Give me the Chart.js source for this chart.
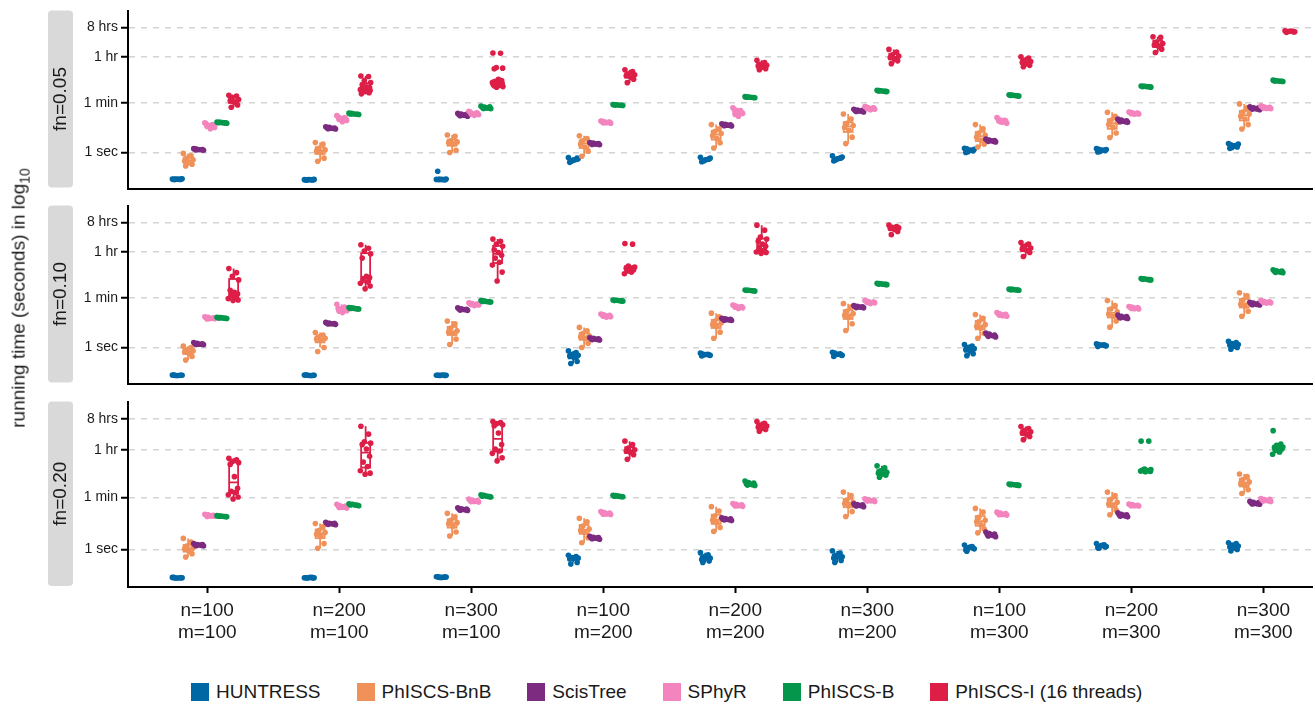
<!DOCTYPE html>
<html>
<head>
<meta charset="utf-8">
<script src="https://cdn.jsdelivr.net/npm/chart.js@4.4.1/dist/chart.umd.min.js"></script>
<style>
  body { margin: 0; background: #fff; font-family: "Liberation Sans", Arial, sans-serif; color: #1a1a1a; }
  #wrap { position: relative; width: 1315px; height: 705px; overflow: hidden; }
  .panel { position: absolute; left: 0; }
  #ytitle { position: absolute; left: 20px; top: 298px; transform: translate(-50%, -50%) rotate(-90deg);
            white-space: nowrap; font-size: 19px; }
  #ytitle sub { font-size: 14px; }
  #legend { position: absolute; left: 191px; top: 681px; display: flex; align-items: center; font-size: 19px; }
  .item { display: flex; align-items: center; margin-right: 36px; }
  .sw { width: 18px; height: 18px; margin-right: 7px; }
</style>
</head>
<body>
<div id="wrap">
  <canvas id="p0" class="panel" width="1315" height="200" style="top:0px"></canvas>
  <canvas id="p1" class="panel" width="1315" height="200" style="top:195px"></canvas>
  <canvas id="p2" class="panel" width="1315" height="270" style="top:391px"></canvas>
  <div id="ytitle">running time (seconds) in log<sub>10</sub></div>
  <div id="legend"></div>
</div>
<script>
// categories, methods, panels
const CATEGORIES = [['n=100', 'm=100'], ['n=200', 'm=100'], ['n=300', 'm=100'],
                    ['n=100', 'm=200'], ['n=200', 'm=200'], ['n=300', 'm=200'],
                    ['n=100', 'm=300'], ['n=200', 'm=300'], ['n=300', 'm=300']];
const METHODS = ['HUNTRESS', 'PhISCS-BnB', 'ScisTree', 'SPhyR', 'PhISCS-B', 'PhISCS-I (16 threads)'];
const COLORS = ['#0067a5', '#ef9159', '#7c2b81', '#f384be', '#04974b', '#dd1f48'];
const PANELS = ['fn=0.05', 'fn=0.10', 'fn=0.20'];

// y axis ticks (log10 seconds, as placed on the picture)
const TICK_VALUES = [0, 1.78, 3.41, 4.48];
const TICK_LABELS = ['1 sec', '1 min', '1 hr', '8 hrs'];

// ---- fn = 0.05 ----
const huntress_fn05 = [
  [-0.95, -0.96, -0.95, -0.94, -0.96, -0.95, -0.95, -0.96],
  [-0.97, -0.98, -0.97, -0.96, -0.98, -0.97, -0.97, -0.98],
  [-0.96, -0.97, -0.96, -0.95, -0.67, -0.96, -0.97, -0.96],
  [-0.18, -0.25, -0.3, -0.22, -0.35, -0.27, -0.2, -0.32],
  [-0.17, -0.24, -0.3, -0.2, -0.33, -0.26, -0.22, -0.29],
  [-0.12, -0.2, -0.26, -0.16, -0.3, -0.22, -0.18, -0.25],
  [0.15, 0.08, 0.03, 0.12, 0.0, 0.09, 0.06, 0.13],
  [0.14, 0.08, 0.04, 0.11, 0.02, 0.09, 0.07, 0.12],
  [0.32, 0.25, 0.18, 0.3, 0.15, 0.24, 0.2, 0.28]
];
const bnb_fn05 = [
  [-0.03, -0.12, -0.2, -0.26, -0.3, -0.35, -0.42, -0.48],
  [0.36, 0.3, 0.15, 0.1, 0.05, 0.0, -0.2, -0.31],
  [0.63, 0.58, 0.42, 0.38, 0.35, 0.3, 0.08, 0.0],
  [0.6, 0.5, 0.42, 0.35, 0.3, 0.2, 0.05, -0.13],
  [1.0, 0.85, 0.75, 0.68, 0.6, 0.5, 0.35, 0.16],
  [1.38, 1.2, 1.05, 0.97, 0.9, 0.8, 0.55, 0.32],
  [1.0, 0.85, 0.7, 0.62, 0.55, 0.45, 0.3, 0.2],
  [1.44, 1.3, 1.15, 1.08, 1.0, 0.9, 0.7, 0.54],
  [1.74, 1.6, 1.45, 1.38, 1.3, 1.2, 1.0, 0.84]
];
const scistree_fn05 = [
  [0.14, 0.1, 0.12, 0.08, 0.13, 0.1, 0.11, 0.09],
  [0.92, 0.86, 0.9, 0.84, 0.89, 0.87, 0.88, 0.85],
  [1.4, 1.33, 1.38, 1.3, 1.36, 1.34, 1.37, 1.32],
  [0.36, 0.3, 0.34, 0.28, 0.33, 0.31, 0.32, 0.29],
  [1.03, 0.97, 1.01, 0.95, 1.0, 0.98, 0.99, 0.96],
  [1.55, 1.48, 1.52, 1.45, 1.5, 1.49, 1.51, 1.47],
  [0.48, 0.4, 0.45, 0.38, 0.44, 0.42, 0.43, 0.4],
  [1.2, 1.1, 1.16, 1.08, 1.15, 1.12, 1.14, 1.1],
  [1.64, 1.56, 1.6, 1.53, 1.59, 1.57, 1.6, 1.55]
];
const sphyr_fn05 = [
  [1.06, 1.0, 0.95, 0.9, 1.03, 0.85, 0.98, 0.93],
  [1.32, 1.25, 1.2, 1.15, 1.28, 1.1, 1.22, 1.18],
  [1.48, 1.42, 1.38, 1.35, 1.45, 1.33, 1.4, 1.37],
  [1.13, 1.08, 1.1, 1.05, 1.12, 1.07, 1.09, 1.06],
  [1.6, 1.5, 1.45, 1.4, 1.55, 1.3, 1.42, 1.36],
  [1.65, 1.58, 1.6, 1.55, 1.63, 1.53, 1.6, 1.57],
  [1.25, 1.15, 1.1, 1.05, 1.2, 1.08, 1.14, 1.12],
  [1.45, 1.4, 1.42, 1.38, 1.44, 1.37, 1.41, 1.39],
  [1.67, 1.6, 1.63, 1.57, 1.65, 1.58, 1.62, 1.59]
];
const phiscsb_fn05 = [
  [1.09, 1.06, 1.08, 1.05, 1.07, 1.07, 1.06, 1.08],
  [1.41, 1.37, 1.39, 1.36, 1.38, 1.38, 1.37, 1.4],
  [1.66, 1.6, 1.63, 1.57, 1.62, 1.59, 1.64, 1.58],
  [1.72, 1.69, 1.71, 1.68, 1.7, 1.7, 1.69, 1.71],
  [2.0, 1.97, 1.99, 1.96, 1.98, 1.98, 1.97, 1.99],
  [2.23, 2.19, 2.21, 2.18, 2.2, 2.2, 2.19, 2.22],
  [2.07, 2.03, 2.05, 2.02, 2.04, 2.04, 2.03, 2.06],
  [2.38, 2.35, 2.37, 2.34, 2.36, 2.36, 2.35, 2.37],
  [2.59, 2.55, 2.57, 2.54, 2.56, 2.56, 2.55, 2.58]
];
const phiscsi_fn05 = [
  [2.05, 2.02, 1.98, 1.9, 1.85, 1.8, 1.7, 1.62],
  [2.74, 2.72, 2.58, 2.5, 2.42, 2.35, 2.32, 2.3, 2.28, 2.25, 2.22, 2.18, 2.14, 2.1],
  [3.56, 3.55, 3.04, 3.02, 3.0, 2.62, 2.58, 2.55, 2.52, 2.5, 2.48, 2.46, 2.44, 2.42, 2.4, 2.38, 2.36, 2.34,
   2.45, 2.5, 2.53, 2.4, 2.48, 2.44],
  [2.96, 2.9, 2.82, 2.78, 2.75, 2.7, 2.62, 2.5],
  [3.3, 3.22, 3.16, 3.12, 3.1, 3.05, 3.0, 2.96],
  [3.69, 3.6, 3.5, 3.45, 3.4, 3.35, 3.28, 3.18],
  [3.43, 3.38, 3.3, 3.26, 3.22, 3.18, 3.12, 3.07],
  [4.14, 4.12, 3.95, 3.9, 3.85, 3.8, 3.7, 3.58],
  [4.36, 4.34, 4.33, 4.32, 4.3, 4.35, 4.31, 4.33]
];

// ---- fn = 0.10 ----
const huntress_fn10 = [
  [-0.98, -0.99, -1.0, -0.99, -0.98, -1.0, -0.99, -0.99],
  [-0.98, -1.0, -0.99, -0.99, -0.98, -1.0, -0.99, -0.98],
  [-0.99, -0.98, -1.0, -0.99, -0.99, -0.98, -1.0, -0.99],
  [-0.12, -0.18, -0.25, -0.28, -0.3, -0.35, -0.5, -0.57],
  [-0.2, -0.24, -0.26, -0.28, -0.3, -0.25, -0.27, -0.23],
  [-0.17, -0.22, -0.25, -0.28, -0.32, -0.24, -0.27, -0.2],
  [0.11, 0.05, 0.0, -0.04, -0.08, -0.12, -0.22, -0.29],
  [0.13, 0.1, 0.08, 0.06, 0.04, 0.09, 0.07, 0.11],
  [0.22, 0.18, 0.14, 0.11, 0.08, 0.05, 0.0, -0.06]
];
const bnb_fn10 = [
  [0.05, 0.0, -0.08, -0.12, -0.16, -0.2, -0.32, -0.45],
  [0.54, 0.45, 0.38, 0.33, 0.3, 0.25, 0.0, -0.14],
  [0.95, 0.85, 0.7, 0.6, 0.55, 0.5, 0.3, 0.11],
  [0.72, 0.6, 0.5, 0.42, 0.38, 0.32, 0.15, 0.0],
  [1.23, 1.1, 0.95, 0.88, 0.82, 0.75, 0.55, 0.33],
  [1.57, 1.45, 1.3, 1.22, 1.15, 1.08, 0.85, 0.61],
  [1.18, 1.05, 0.92, 0.82, 0.76, 0.7, 0.5, 0.33],
  [1.68, 1.5, 1.38, 1.28, 1.2, 1.12, 0.95, 0.73],
  [1.96, 1.85, 1.7, 1.6, 1.55, 1.48, 1.3, 1.12]
];
const scistree_fn10 = [
  [0.18, 0.12, 0.15, 0.1, 0.14, 0.12, 0.13, 0.11],
  [0.9, 0.85, 0.88, 0.83, 0.87, 0.85, 0.86, 0.84],
  [1.42, 1.35, 1.39, 1.33, 1.38, 1.36, 1.37, 1.34],
  [0.35, 0.29, 0.33, 0.27, 0.32, 0.3, 0.31, 0.28],
  [1.05, 0.99, 1.03, 0.97, 1.02, 1.0, 1.01, 0.98],
  [1.5, 1.44, 1.48, 1.42, 1.47, 1.45, 1.46, 1.43],
  [0.52, 0.42, 0.48, 0.38, 0.46, 0.43, 0.45, 0.4],
  [1.16, 1.06, 1.12, 1.04, 1.1, 1.08, 1.11, 1.06],
  [1.62, 1.54, 1.59, 1.52, 1.57, 1.55, 1.58, 1.53]
];
const sphyr_fn10 = [
  [1.1, 1.05, 1.08, 1.03, 1.07, 1.04, 1.06, 1.02],
  [1.55, 1.45, 1.38, 1.32, 1.4, 1.25, 1.36, 1.3],
  [1.6, 1.55, 1.57, 1.52, 1.58, 1.5, 1.56, 1.53],
  [1.2, 1.14, 1.16, 1.1, 1.18, 1.08, 1.15, 1.12],
  [1.52, 1.45, 1.48, 1.42, 1.5, 1.4, 1.47, 1.44],
  [1.68, 1.62, 1.65, 1.6, 1.66, 1.58, 1.63, 1.61],
  [1.25, 1.17, 1.2, 1.12, 1.22, 1.14, 1.19, 1.16],
  [1.47, 1.41, 1.44, 1.38, 1.45, 1.39, 1.43, 1.4],
  [1.68, 1.62, 1.65, 1.6, 1.66, 1.59, 1.64, 1.61]
];
const phiscsb_fn10 = [
  [1.08, 1.05, 1.07, 1.04, 1.06, 1.06, 1.05, 1.07],
  [1.43, 1.39, 1.41, 1.38, 1.4, 1.4, 1.39, 1.42],
  [1.68, 1.64, 1.66, 1.63, 1.65, 1.65, 1.64, 1.67],
  [1.7, 1.67, 1.69, 1.66, 1.68, 1.68, 1.67, 1.69],
  [2.06, 2.03, 2.05, 2.02, 2.04, 2.04, 2.03, 2.05],
  [2.3, 2.26, 2.28, 2.25, 2.27, 2.27, 2.26, 2.29],
  [2.09, 2.06, 2.08, 2.05, 2.07, 2.07, 2.06, 2.08],
  [2.47, 2.43, 2.45, 2.42, 2.44, 2.44, 2.43, 2.46],
  [2.78, 2.7, 2.75, 2.68, 2.73, 2.71, 2.74, 2.69]
];
const phiscsi_fn10 = [
  [2.83, 2.68, 2.55, 2.42, 2.05, 1.98, 1.92, 1.86, 1.8, 1.75, 1.7, 1.68],
  [3.68, 3.55, 3.45, 3.35, 3.2, 2.55, 2.5, 2.45, 2.35, 2.3, 2.2, 2.1],
  [3.88, 3.8, 3.7, 3.62, 3.5, 3.4, 3.3, 3.2, 3.05, 2.95, 2.7, 2.38],
  [3.72, 3.7, 2.92, 2.88, 2.84, 2.8, 2.78, 2.74, 2.7, 2.64],
  [4.38, 4.2, 3.95, 3.88, 3.8, 3.7, 3.62, 3.55, 3.48, 3.42, 3.4, 3.37],
  [4.38, 4.33, 4.3, 4.28, 4.26, 4.22, 4.15, 4.04],
  [3.76, 3.7, 3.62, 3.56, 3.52, 3.48, 3.4, 3.26],
  null,
  null
];

// ---- fn = 0.20 ----
const huntress_fn20 = [
  [-0.96, -0.97, -0.98, -0.97, -0.96, -0.98, -0.97, -0.97],
  [-0.97, -0.96, -0.98, -0.97, -0.97, -0.96, -0.98, -0.97],
  [-0.94, -0.95, -0.96, -0.95, -0.94, -0.96, -0.95, -0.95],
  [-0.2, -0.24, -0.28, -0.3, -0.33, -0.29, -0.45, -0.5],
  [-0.11, -0.18, -0.25, -0.3, -0.35, -0.28, -0.4, -0.45],
  [-0.05, -0.12, -0.2, -0.25, -0.3, -0.22, -0.38, -0.45],
  [0.15, 0.1, 0.06, 0.02, -0.02, 0.08, 0.04, -0.06],
  [0.2, 0.16, 0.12, 0.1, 0.06, 0.14, 0.08, 0.04],
  [0.23, 0.2, 0.15, 0.12, 0.08, 0.05, 0.0, -0.05]
];
const bnb_fn20 = [
  [0.38, 0.25, 0.12, 0.06, 0.02, -0.05, -0.15, -0.26],
  [0.89, 0.78, 0.65, 0.58, 0.52, 0.45, 0.2, 0.04],
  [1.24, 1.12, 1.0, 0.92, 0.88, 0.8, 0.6, 0.46],
  [1.07, 0.95, 0.8, 0.7, 0.65, 0.58, 0.4, 0.23],
  [1.47, 1.32, 1.15, 1.05, 1.0, 0.92, 0.75, 0.62],
  [1.97, 1.85, 1.7, 1.62, 1.58, 1.5, 1.3, 1.13],
  [1.41, 1.28, 1.1, 1.0, 0.95, 0.85, 0.7, 0.57],
  [1.97, 1.85, 1.72, 1.62, 1.56, 1.5, 1.35, 1.19],
  [2.59, 2.5, 2.4, 2.32, 2.26, 2.2, 2.05, 1.92]
];
const scistree_fn20 = [
  [0.2, 0.14, 0.17, 0.12, 0.16, 0.15, 0.17, 0.13],
  [0.93, 0.87, 0.9, 0.85, 0.89, 0.88, 0.9, 0.86],
  [1.43, 1.36, 1.4, 1.34, 1.38, 1.37, 1.39, 1.35],
  [0.45, 0.38, 0.42, 0.35, 0.4, 0.39, 0.41, 0.37],
  [1.09, 1.02, 1.06, 0.99, 1.04, 1.03, 1.05, 1.01],
  [1.57, 1.5, 1.54, 1.47, 1.52, 1.51, 1.53, 1.49],
  [0.6, 0.48, 0.55, 0.44, 0.52, 0.5, 0.53, 0.46],
  [1.26, 1.15, 1.21, 1.12, 1.2, 1.17, 1.19, 1.14],
  [1.65, 1.57, 1.62, 1.55, 1.6, 1.58, 1.61, 1.56]
];
const sphyr_fn20 = [
  [1.21, 1.16, 1.19, 1.14, 1.18, 1.15, 1.17, 1.13],
  [1.55, 1.47, 1.5, 1.42, 1.52, 1.45, 1.49, 1.44],
  [1.73, 1.66, 1.7, 1.63, 1.69, 1.65, 1.68, 1.64],
  [1.3, 1.23, 1.27, 1.2, 1.26, 1.22, 1.25, 1.21],
  [1.58, 1.51, 1.55, 1.48, 1.54, 1.5, 1.53, 1.49],
  [1.74, 1.68, 1.71, 1.65, 1.7, 1.67, 1.69, 1.66],
  [1.28, 1.21, 1.25, 1.18, 1.24, 1.2, 1.23, 1.19],
  [1.56, 1.51, 1.54, 1.49, 1.53, 1.5, 1.52, 1.5],
  [1.75, 1.67, 1.71, 1.65, 1.7, 1.68, 1.72, 1.66]
];
const phiscsb_fn20 = [
  [1.16, 1.13, 1.15, 1.12, 1.14, 1.14, 1.13, 1.15],
  [1.57, 1.52, 1.55, 1.5, 1.53, 1.53, 1.52, 1.54],
  [1.88, 1.82, 1.85, 1.8, 1.83, 1.83, 1.82, 1.86],
  [1.86, 1.82, 1.84, 1.81, 1.83, 1.83, 1.82, 1.85],
  [2.35, 2.22, 2.3, 2.2, 2.26, 2.24, 2.28, 2.21],
  [2.87, 2.8, 2.7, 2.65, 2.62, 2.6, 2.55, 2.48],
  [2.25, 2.21, 2.23, 2.2, 2.22, 2.22, 2.21, 2.24],
  [3.72, 3.72, 2.76, 2.74, 2.73, 2.72, 2.71, 2.7, 2.7, 2.69, 2.68, 2.67],
  [4.08, 3.62, 3.58, 3.52, 3.5, 3.48, 3.45, 3.4, 3.35, 3.27]
];
const phiscsi_fn20 = [
  [3.13, 3.08, 3.02, 2.98, 2.92, 2.5, 2.1, 2.0, 1.95, 1.88, 1.8, 1.73],
  [4.23, 3.96, 3.7, 3.65, 3.6, 3.45, 3.2, 3.0, 2.85, 2.7, 2.62, 2.58],
  [4.39, 4.36, 4.32, 4.28, 4.25, 4.0, 3.6, 3.45, 3.38, 3.3, 3.15, 3.04],
  [3.72, 3.6, 3.48, 3.42, 3.38, 3.33, 3.25, 3.1],
  [4.39, 4.33, 4.27, 4.24, 4.2, 4.16, 4.12, 4.06],
  null,
  [4.22, 4.15, 4.08, 4.04, 4.0, 3.95, 3.88, 3.77],
  null,
  null
];

const PANEL_DATA = [
  [huntress_fn05, bnb_fn05, scistree_fn05, sphyr_fn05, phiscsb_fn05, phiscsi_fn05],
  [huntress_fn10, bnb_fn10, scistree_fn10, sphyr_fn10, phiscsb_fn10, phiscsi_fn10],
  [huntress_fn20, bnb_fn20, scistree_fn20, sphyr_fn20, phiscsb_fn20, phiscsi_fn20]
];

// layout of the dodged / jittered groups, in category units
const DODGE = [-0.228, -0.145, -0.066, 0.018, 0.11, 0.2];
const JITTER = [-0.036, 0.022, -0.01, 0.038, -0.026, 0.006, 0.03, -0.018, 0.014, -0.04, 0.034, -0.004,
                0.026, -0.032, 0.01, -0.022, 0.04, -0.008, 0.018, -0.03, 0.002, 0.036, -0.014, 0.028];
const BOX_W = 0.068;
const FONT = '"Liberation Sans", Arial, sans-serif';

function quantile(sorted, p) {
  const h = (sorted.length - 1) * p;
  const lo = Math.floor(h);
  return sorted[lo] + (h - lo) * ((sorted[lo + 1] ?? sorted[lo]) - sorted[lo]);
}

const stripPlugin = {
  id: 'strip',
  beforeDraw(chart, args, opts) {
    const { ctx, chartArea: a } = chart;
    ctx.save();
    ctx.fillStyle = '#d9d9d9';
    ctx.beginPath();
    ctx.roundRect(48, a.top - 1, 25, a.bottom - a.top, 4);
    ctx.fill();
    ctx.translate(61, (a.top + a.bottom) / 2 - 1);
    ctx.rotate(-Math.PI / 2);
    ctx.fillStyle = '#1a1a1a';
    ctx.font = '19px ' + FONT;
    ctx.textAlign = 'center';
    ctx.textBaseline = 'middle';
    ctx.fillText(opts.label, 0, 0);
    ctx.restore();
  }
};

// boxplots, drawn under the jittered points
const boxPlugin = {
  id: 'boxes',
  beforeDatasetsDraw(chart, args, opts) {
    const { ctx, scales: { x, y } } = chart;
    const hw = (x.getPixelForValue(BOX_W) - x.getPixelForValue(0)) / 2;
    ctx.save();
    ctx.beginPath();
    ctx.rect(chart.chartArea.left, chart.chartArea.top, chart.chartArea.width, chart.chartArea.height);
    ctx.clip();
    opts.series.forEach((groups, mi) => {
      groups.forEach((vals, ci) => {
        if (!vals) return;
        const s = [...vals].sort((a, b) => a - b);
        const q1 = quantile(s, 0.25), q2 = quantile(s, 0.5), q3 = quantile(s, 0.75);
        const iqr = q3 - q1;
        const lo = Math.min(...s.filter(v => v >= q1 - 1.5 * iqr));
        const hi = Math.max(...s.filter(v => v <= q3 + 1.5 * iqr));
        const cx = x.getPixelForValue(ci + DODGE[mi]);
        ctx.strokeStyle = COLORS[mi];
        ctx.lineWidth = 1.8;
        ctx.beginPath();
        ctx.moveTo(cx, y.getPixelForValue(hi));
        ctx.lineTo(cx, y.getPixelForValue(q3));
        ctx.moveTo(cx, y.getPixelForValue(q1));
        ctx.lineTo(cx, y.getPixelForValue(lo));
        ctx.stroke();
        const top = y.getPixelForValue(q3), bot = y.getPixelForValue(q1);
        ctx.fillStyle = '#fff';
        ctx.fillRect(cx - hw, top, hw * 2, bot - top);
        ctx.strokeRect(cx - hw, top, hw * 2, bot - top);
        ctx.beginPath();
        ctx.moveTo(cx - hw, y.getPixelForValue(q2));
        ctx.lineTo(cx + hw, y.getPixelForValue(q2));
        ctx.stroke();
      });
    });
    ctx.restore();
  }
};

function buildDatasets(series) {
  return METHODS.map((name, mi) => ({
    label: name,
    order: METHODS.length - mi,
    data: series[mi].flatMap((vals, ci) => vals
      ? vals.map((v, j) => ({ x: ci + DODGE[mi] + JITTER[j % JITTER.length], y: v }))
      : []),
    backgroundColor: COLORS[mi],
    borderWidth: 0,
    pointRadius: 2.8,
    pointHoverRadius: 2.8
  }));
}

function makePanel(id, pi, bottom) {
  const series = PANEL_DATA[pi];
  return new Chart(document.getElementById(id), {
    type: 'scatter',
    data: { datasets: buildDatasets(series) },
    plugins: [stripPlugin, boxPlugin],
    options: {
      responsive: false,
      animation: false,
      events: [],
      layout: { padding: { top: 8, left: 0, right: 0, bottom: 0 } },
      plugins: {
        legend: { display: false },
        tooltip: { enabled: false },
        strip: { label: PANELS[pi] },
        boxes: { series: series }
      },
      scales: {
        x: {
          type: 'linear',
          min: -0.6,
          max: 8.37,
          afterFit: s => { s.height = bottom ? 74 : 4; },
          afterBuildTicks: s => { s.ticks = CATEGORIES.map((_, i) => ({ value: i })); },
          border: { display: true, color: '#000', width: 2 },
          grid: { display: bottom, drawOnChartArea: false, drawTicks: true, tickLength: 6,
                  tickColor: '#000', tickWidth: 2 },
          ticks: {
            display: bottom,
            autoSkip: false,
            maxRotation: 0,
            padding: 6,
            color: '#1a1a1a',
            font: { family: FONT, size: 19, lineHeight: 1.2 },
            callback: v => CATEGORIES[v]
          }
        },
        y: {
          type: 'linear',
          min: -1.29,
          max: 5.05,
          afterFit: s => { s.width = 128; },
          afterBuildTicks: s => { s.ticks = TICK_VALUES.map(v => ({ value: v })); },
          border: { display: true, color: '#000', width: 2, dash: [6, 6] },
          grid: { color: '#d4d4d4', lineWidth: 1.5, drawTicks: true, tickLength: 7,
                  tickColor: '#000', tickWidth: 2, tickBorderDash: [] },
          ticks: {
            padding: 3,
            color: '#1a1a1a',
            font: { family: FONT, size: 14 },
            callback: (v, i) => TICK_LABELS[i]
          }
        }
      }
    }
  });
}

makePanel('p0', 0, false);
makePanel('p1', 1, false);
makePanel('p2', 2, true);

// legend
const legend = document.getElementById('legend');
METHODS.forEach((name, mi) => {
  const item = document.createElement('div');
  item.className = 'item';
  const sw = document.createElement('div');
  sw.className = 'sw';
  sw.style.background = COLORS[mi];
  const label = document.createElement('span');
  label.textContent = name;
  item.appendChild(sw);
  item.appendChild(label);
  legend.appendChild(item);
});
</script>
</body>
</html>
